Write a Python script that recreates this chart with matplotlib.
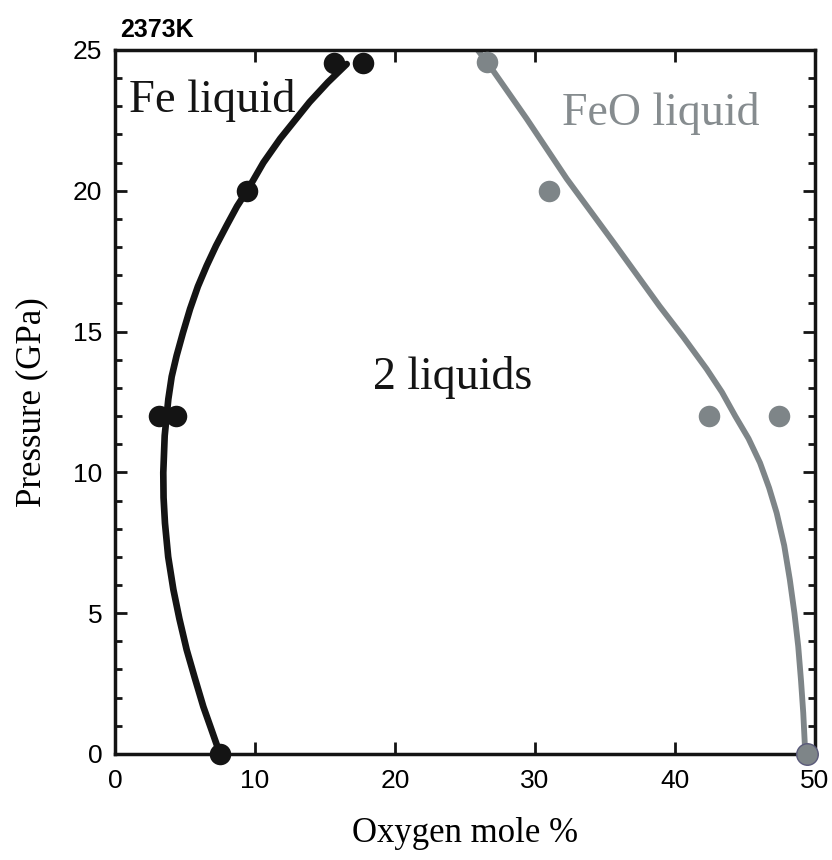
import matplotlib
matplotlib.use("Agg")
import matplotlib.pyplot as plt
from matplotlib.ticker import MultipleLocator

# measured points (oxygen mole %, pressure GPa)
fe_x = [7.5, 3.15, 4.35, 9.4, 15.65, 17.7]
fe_p = [0, 12, 12, 20, 24.55, 24.55]
feo_x = [49.45, 42.45, 47.45, 31.0, 26.55]
feo_p = [0, 12, 12, 20, 24.58]

# hand-drawn solvus curves
fe_curve_x = [7.5, 6.9, 6.31, 5.7, 5.12, 4.6, 4.17, 3.8, 3.57, 3.47, 3.45, 3.55,
              3.81, 4.05, 4.4, 4.85, 5.36, 5.92, 6.55, 7.22, 7.98, 8.72, 9.52,
              10.6, 11.8, 12.85, 13.9, 15.2, 16.55]
fe_curve_p = [0.0, 0.85, 1.68, 2.7, 3.7, 4.8, 5.84, 7.0, 8.2, 9.1, 9.99, 11.3,
              12.6, 13.4, 14.14, 14.95, 15.8, 16.6, 17.34, 18.05, 18.77, 19.45, 20.07,
              21.0, 21.85, 22.5, 23.15, 23.85, 24.5]
feo_curve_x = [49.3, 49.16, 49.0, 48.8, 48.53, 48.2, 47.8, 47.26, 46.72, 46.07,
               45.25, 44.3, 43.35, 42.26, 40.6, 38.9, 35.6, 32.26, 29.4, 26.9, 25.83]
feo_curve_p = [0.05, 1.45, 2.6, 3.82, 5.0, 6.19, 7.4, 8.56, 9.45, 10.34,
               11.2, 12.0, 12.85, 13.67, 14.8, 15.9, 18.17, 20.43, 22.56, 24.34, 25.05]

black = '#141414'
grey = '#7e8588'
serif = 'Liberation Serif'
sans = 'Liberation Sans'

plt.rcParams['font.family'] = sans

fig = plt.figure(figsize=(8.32, 8.6), dpi=100)
ax = fig.add_axes([0.1382, 0.1233, 0.8414, 0.8186])

ax.plot(fe_curve_x, fe_curve_p, color=black, lw=4.8, solid_capstyle='round',
        solid_joinstyle='round', zorder=2)
ax.plot(feo_curve_x, feo_curve_p, color=grey, lw=4.2, solid_capstyle='butt',
        solid_joinstyle='round', zorder=2)
ax.plot(fe_x, fe_p, 'o', color=black, ms=15.5, mew=0, zorder=3, clip_on=False)
ax.plot(feo_x[1:], feo_p[1:], 'o', color=grey, ms=15.5, mew=0, zorder=3, clip_on=False)
ax.plot(feo_x[:1], feo_p[:1], 'o', color=grey, ms=15.5, mec='#5a5a7a', mew=1,
        zorder=3, clip_on=False)

ax.set_xlim(0, 50)
ax.set_ylim(0, 25)
ax.xaxis.set_major_locator(MultipleLocator(10))
ax.yaxis.set_major_locator(MultipleLocator(5))
ax.yaxis.set_minor_locator(MultipleLocator(1))
ax.tick_params(which='both', direction='in', top=True, right=True, width=2, color=black)
ax.tick_params(which='major', length=8.5, labelsize=19)
ax.tick_params(which='minor', length=5)
ax.tick_params(axis='x', pad=11)
ax.tick_params(axis='y', pad=9)
for s in ax.spines.values():
    s.set_linewidth(2.5)
    s.set_color(black)

ax.set_xlabel('Oxygen mole %', family=serif, fontsize=25, labelpad=17)
ax.set_ylabel('Pressure (GPa)', family=serif, fontsize=25, labelpad=18)

ax.text(1.0, 22.8, 'Fe liquid', family=serif, fontsize=33.5, color=black, va='baseline')
ax.text(31.9, 22.35, 'FeO liquid', family=serif, fontsize=33, color='#868c8f', va='baseline')
ax.text(18.4, 12.95, '2 liquids', family=serif, fontsize=33, color=black, va='baseline')

fig.text(120 / 832, 1 - 37 / 860, '2373K', family=sans, fontweight='bold',
         fontsize=18, va='baseline')

fig.savefig('out.png', dpi=100)
